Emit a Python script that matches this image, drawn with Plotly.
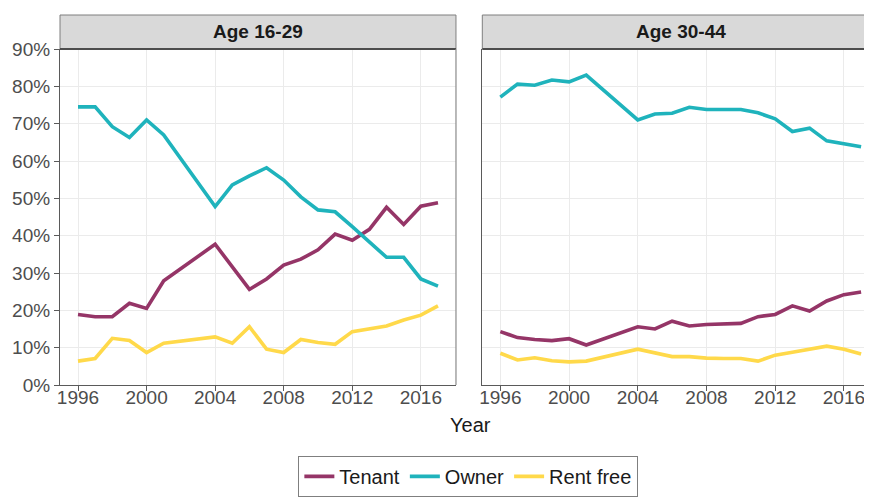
import plotly.graph_objects as go

years = [1996, 1997, 1998, 1999, 2000, 2001, 2004, 2005, 2006, 2007, 2008,
         2009, 2010, 2011, 2012, 2013, 2014, 2015, 2016, 2017]

# Age 16-29
tenant_young = [0.189, 0.183, 0.183, 0.219, 0.205, 0.279, 0.377, 0.317, 0.256, 0.284,
                0.321, 0.337, 0.362, 0.404, 0.388, 0.417, 0.476, 0.430, 0.479, 0.488]
owner_young = [0.745, 0.745, 0.692, 0.663, 0.710, 0.670, 0.478, 0.536, 0.560, 0.582,
               0.549, 0.504, 0.469, 0.464, 0.424, 0.384, 0.342, 0.342, 0.284, 0.265]
rentfree_young = [0.064, 0.071, 0.125, 0.119, 0.087, 0.112, 0.129, 0.112, 0.156, 0.096,
                  0.087, 0.122, 0.114, 0.109, 0.143, 0.150, 0.158, 0.174, 0.187, 0.212]

# Age 30-44
tenant_mid = [0.143, 0.127, 0.122, 0.119, 0.124, 0.107, 0.156, 0.150, 0.171, 0.158,
              0.162, 0.163, 0.165, 0.183, 0.189, 0.212, 0.198, 0.225, 0.242, 0.249]
owner_mid = [0.771, 0.806, 0.803, 0.817, 0.812, 0.830, 0.710, 0.726, 0.728, 0.744,
             0.738, 0.739, 0.738, 0.729, 0.713, 0.679, 0.688, 0.654, 0.646, 0.638]
rentfree_mid = [0.085, 0.067, 0.073, 0.065, 0.062, 0.064, 0.096, 0.087, 0.076, 0.076,
                0.072, 0.071, 0.071, 0.064, 0.080, 0.088, 0.096, 0.104, 0.096, 0.083]

panels = ["Age 16-29", "Age 30-44"]
tenure_names = ["Tenant", "Owner", "Rent free"]
colors = {"Tenant": "#953567", "Owner": "#1FB3BC", "Rent free": "#FFD94A"}

FONT = "Liberation Sans, Arial, sans-serif"
TICK_GREY = "#4D4D4D"
GRID = "#EBEBEB"

fig = go.Figure()

series = [
    ("x", "y", [tenant_young, owner_young, rentfree_young]),
    ("x2", "y2", [tenant_mid, owner_mid, rentfree_mid]),
]
for i, (xa, ya, vals) in enumerate(series):
    for name, v in zip(tenure_names, vals):
        fig.add_trace(go.Scatter(
            x=years, y=v, name=name, mode="lines",
            line=dict(color=colors[name], width=3.6),
            xaxis=xa, yaxis=ya, showlegend=(i == 0),
        ))

# page has an 8px body margin, so the figure is shifted; margins compensate
left_dom = [0, 0.4829]
right_dom = [0.515, 1]

xcommon = dict(
    tickvals=[1996, 2000, 2004, 2008, 2012, 2016],
    showgrid=True, gridcolor=GRID, gridwidth=1.2,
    showline=True, linecolor="#5a5a5a", linewidth=1.2,
    ticks="outside", ticklen=5, tickcolor="#5a5a5a",
    tickfont=dict(size=19, color=TICK_GREY, family=FONT),
    ticklabelstandoff=-10,
    zeroline=False,
)
ycommon = dict(
    range=[0, 0.9], tickvals=[i / 10 for i in range(10)],
    showgrid=True, gridcolor=GRID, gridwidth=1.2,
    showline=True, linecolor="#5a5a5a", linewidth=1.2,
    zeroline=False,
)

fig.update_layout(
    width=872, height=500,
    margin=dict(l=52, r=0, t=41, b=123),
    paper_bgcolor="white", plot_bgcolor="white",
    font=dict(family=FONT),
    xaxis=dict(domain=left_dom, range=[1994.95, 2018.05], anchor="y", **xcommon),
    xaxis2=dict(domain=right_dom, range=[1994.95, 2018.1], anchor="y2", **xcommon),
    yaxis=dict(anchor="x", tickformat=".0%", ticks="outside", ticklen=5,
               tickcolor="#5a5a5a",
               tickfont=dict(size=19, color=TICK_GREY, family=FONT), **ycommon),
    yaxis2=dict(anchor="x2", matches="y", showticklabels=False, **ycommon),
    legend=dict(
        orientation="h", x=0.498, xanchor="center", y=-0.211, yanchor="top",
        bordercolor="#7F7F7F", borderwidth=1,
        font=dict(size=20, color="#1a1a1a", family=FONT),
        itemwidth=30, tracegroupgap=0,
    ),
)

# strips and panel borders
strip_top = 1 + 34 / 336
for dom, label in zip([left_dom, right_dom], panels):
    fig.add_shape(type="rect", xref="paper", yref="paper",
                  x0=dom[0], x1=dom[1], y0=1, y1=strip_top,
                  fillcolor="#D9D9D9", line=dict(color="#7F7F7F", width=1))
    fig.add_shape(type="line", xref="paper", yref="paper",
                  x0=dom[0], x1=dom[1], y0=1, y1=1,
                  line=dict(color="#4D4D4D", width=2))
    fig.add_annotation(x=(dom[0] + dom[1]) / 2, y=(1 + strip_top) / 2,
                       xref="paper", yref="paper", text="<b>%s</b>" % label,
                       showarrow=False, yanchor="middle", xanchor="center",
                       font=dict(size=19, color="#1a1a1a", family=FONT))

fig.add_shape(type="line", xref="paper", yref="paper",
              x0=left_dom[1], x1=left_dom[1], y0=0, y1=1,
              line=dict(color="#8a8a8a", width=1.2))

fig.add_annotation(x=0.5, y=-0.119, xref="paper", yref="paper", text="Year",
                   showarrow=False, yanchor="middle",
                   font=dict(size=20, color="#1a1a1a", family=FONT))

fig.write_html("out.html")
